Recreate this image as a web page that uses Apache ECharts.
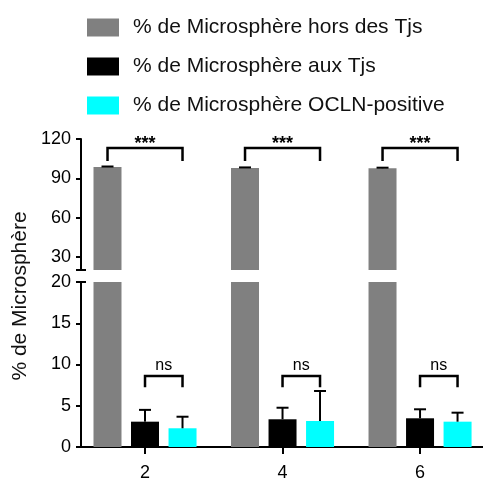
<!DOCTYPE html>
<html>
<head>
<meta charset="utf-8">
<script src="https://cdn.jsdelivr.net/npm/echarts@6/dist/echarts.min.js"></script>
<style>
  html, body { margin: 0; padding: 0; background: #fff; }
  #chart { width: 483px; height: 479px; }
</style>
</head>
<body>
<div id="chart"></div>
<script>
// groupes (x) et valeurs
var groups = [2, 4, 6];
var seriesNames = ['% de Microsphère hors des Tjs', '% de Microsphère aux Tjs', '% de Microsphère OCLN-positive'];
var horsTjs = [98.6, 97.9, 97.7];
var horsTjsErr = [99.0, 98.3, 98.1];     // haut de la barre d'erreur
var auxTjs = [3.07, 3.36, 3.48];
var auxTjsErr = [4.5, 4.76, 4.57];
var oclnPos = [2.27, 3.15, 3.07];
var oclnPosErr = [3.67, 6.79, 4.16];
var upperTicks = [30, 60, 90, 120];
var lowerTicks = [0, 5, 10, 15, 20];
// crochets de significativité [hauteur du trait, bas des pattes]
var starBracket = [113.1, 103.2];
var nsBracket = [8.6, 7.25];

var FONT = '"Liberation Sans", Arial, sans-serif';
var STEP = 37.5; // distance entre centres de barres (px)
var colors = ['#808080', '#000000', '#00ffff'];

function pairs(vals) {
    var arr = [];
    for (var i = 0; i < groups.length; i++) {
        arr.push([groups[i], vals[i]]);
    }
    return arr;
}

function errData(vals, tops, slot) {
    var arr = [];
    for (var i = 0; i < groups.length; i++) {
        arr.push([groups[i], vals[i], tops[i], slot]);
    }
    return arr;
}

function renderErr(params, api) {
    var p0 = api.coord([api.value(0), api.value(1)]);
    var p1 = api.coord([api.value(0), api.value(2)]);
    var x = p0[0] + api.value(3) * STEP;
    var st = { stroke: '#000', lineWidth: 2 };
    return {
        type: 'group',
        children: [
            { type: 'line', shape: { x1: x, y1: p0[1], x2: x, y2: p1[1] }, style: st },
            { type: 'line', shape: { x1: x - 6, y1: p1[1], x2: x + 6, y2: p1[1] }, style: st }
        ]
    };
}

function bracketRenderer(fromSlot, toSlot, text, fontSize, textLift, bold) {
    return function (params, api) {
        var top = api.coord([api.value(0), api.value(1)]);
        var leg = api.coord([api.value(0), api.value(2)]);
        var x1 = top[0] + fromSlot * STEP, x2 = top[0] + toSlot * STEP;
        var st = { stroke: '#000', lineWidth: 2.5, fill: null };
        return {
            type: 'group',
            children: [
                { type: 'polyline', shape: { points: [[x1, leg[1]], [x1, top[1]], [x2, top[1]], [x2, leg[1]]] }, style: st },
                { type: 'text', x: (x1 + x2) / 2, y: top[1] - textLift,
                  style: { text: text, fontSize: fontSize, fontFamily: FONT, fontWeight: bold ? 'bold' : 'normal',
                           fill: '#000', align: 'center', verticalAlign: 'middle' } }
            ]
        };
    };
}

function bracketData(b) {
    var arr = [];
    for (var i = 0; i < groups.length; i++) {
        arr.push([groups[i], b[0], b[1]]);
    }
    return arr;
}

var xMin = 1.069, xMax = 7;
var series = [];
var allVals = [horsTjs, auxTjs, oclnPos];
for (var g = 0; g < 2; g++) {
    for (var s = 0; s < 3; s++) {
        series.push({
            name: seriesNames[s],
            type: 'bar',
            xAxisIndex: g,
            yAxisIndex: g * 2,
            data: pairs(allVals[s]),
            barWidth: 28,
            barGap: '34%',
            itemStyle: { color: colors[s] }
        });
    }
}
series.push({ type: 'custom', xAxisIndex: 0, yAxisIndex: 0, renderItem: renderErr, data: errData(horsTjs, horsTjsErr, -1), z: 5 });
series.push({ type: 'custom', xAxisIndex: 1, yAxisIndex: 2, renderItem: renderErr, data: errData(auxTjs, auxTjsErr, 0), z: 5 });
series.push({ type: 'custom', xAxisIndex: 1, yAxisIndex: 2, renderItem: renderErr, data: errData(oclnPos, oclnPosErr, 1), z: 5 });
series.push({ type: 'custom', xAxisIndex: 0, yAxisIndex: 0, renderItem: bracketRenderer(-1, 1, '***', 18, 4, true), data: bracketData(starBracket), z: 6, clip: false });
series.push({ type: 'custom', xAxisIndex: 1, yAxisIndex: 2, renderItem: bracketRenderer(0, 1, 'ns', 16, 10, false), data: bracketData(nsBracket), z: 6, clip: false });

var axisLineStyle = { show: true, lineStyle: { color: '#000', width: 2 } };
var tickLine = { color: '#000', width: 2 };

function breakAxis(gridIndex, min, max) {
    return {
        type: 'value', gridIndex: gridIndex, min: min, max: max, position: 'left',
        axisLine: { show: false },
        axisTick: { show: true, inside: true, length: 5, customValues: [20], lineStyle: tickLine },
        axisLabel: { show: false },
        splitLine: { show: false }
    };
}

var option = {
    animation: false,
    backgroundColor: '#fff',
    textStyle: { fontFamily: FONT },
    legend: {
        data: seriesNames,
        orient: 'vertical',
        left: 87,
        top: 17,
        padding: 0,
        icon: 'rect',
        itemWidth: 32,
        itemHeight: 18,
        itemGap: 18,
        textStyle: { fontSize: 21, color: '#111', fontFamily: FONT, lineHeight: 18, padding: [0, 0, 0, 9] }
    },
    grid: [
        { left: 81, top: 139, width: 407.8, height: 131, outerBoundsMode: 'none', containLabel: false },
        { left: 81, top: 282, width: 407.8, height: 165, outerBoundsMode: 'none', containLabel: false }
    ],
    xAxis: [
        { type: 'value', gridIndex: 0, min: xMin, max: xMax, show: false, splitLine: { show: false } },
        {
            type: 'value', gridIndex: 1, min: xMin, max: xMax,
            axisLine: axisLineStyle,
            axisTick: { show: true, length: 7, customValues: groups, lineStyle: tickLine },
            axisLabel: { color: '#000', fontSize: 18, fontFamily: FONT, margin: 17, customValues: groups },
            splitLine: { show: false }
        }
    ],
    yAxis: [
        {
            type: 'value', gridIndex: 0, min: 20, max: 120,
            axisLine: axisLineStyle,
            axisTick: { show: true, length: 5, customValues: [20].concat(upperTicks), lineStyle: tickLine },
            axisLabel: { color: '#000', fontSize: 18, fontFamily: FONT, margin: 10, customValues: upperTicks },
            splitLine: { show: false }
        },
        breakAxis(0, 20, 120),
        {
            type: 'value', gridIndex: 1, min: 0, max: 20,
            axisLine: axisLineStyle,
            axisTick: { show: true, length: 5, customValues: lowerTicks, lineStyle: tickLine },
            axisLabel: { color: '#000', fontSize: 18, fontFamily: FONT, margin: 10, customValues: lowerTicks },
            splitLine: { show: false }
        },
        breakAxis(1, 0, 20)
    ],
    graphic: [{
        type: 'text',
        x: 20,
        y: 296,
        rotation: Math.PI / 2,
        style: { text: '% de Microsphère', fontSize: 21, fontFamily: FONT, fill: '#111', align: 'center', verticalAlign: 'middle' }
    }],
    series: series
};

var chart = echarts.init(document.getElementById('chart'));
chart.setOption(option);
</script>
</body>
</html>
